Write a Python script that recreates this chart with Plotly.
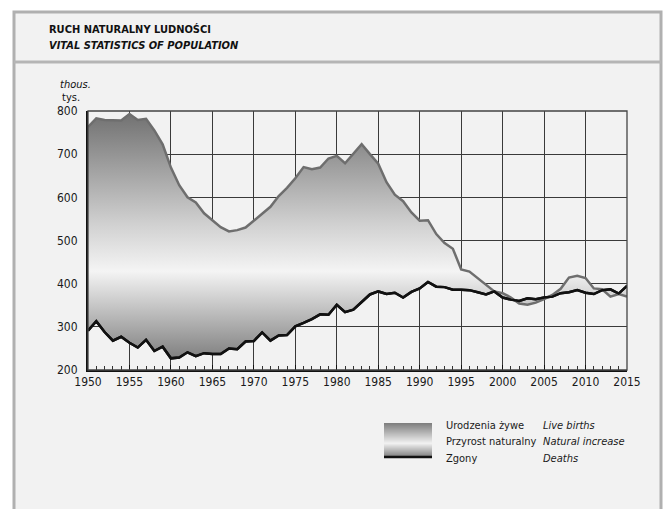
import plotly.graph_objects as go

years = list(range(1950, 2016))
births = [763, 783, 779, 779, 778, 793, 779, 782, 755, 723,
          669, 628, 600, 588, 563, 547, 531, 521, 524, 530,
          546, 563, 578, 603, 622, 644, 670, 665, 669, 690,
          696, 679, 702, 723, 700, 678, 635, 606, 591, 565,
          546, 547, 515, 494, 481, 433, 428, 413, 396, 382,
          378, 368, 354, 351, 356, 364, 374, 388, 414, 418,
          413, 389, 387, 370, 376, 370]
deaths = [291, 313, 288, 268, 277, 263, 252, 270, 244, 254,
          227, 229, 241, 232, 239, 237, 237, 250, 248, 266,
          267, 287, 268, 280, 281, 301, 309, 318, 329, 328,
          351, 334, 340, 358, 375, 382, 376, 379, 368, 381,
          389, 404, 393, 392, 386, 386, 385, 380, 375, 382,
          368, 363, 360, 366, 364, 368, 370, 378, 380, 385,
          379, 376, 385, 387, 377, 395]
x_ticks = list(range(1950, 2016, 5))
y_ticks = [200, 300, 400, 500, 600, 700, 800]

title_pl = "RUCH NATURALNY LUDNOŚCI"
title_en = "VITAL STATISTICS OF POPULATION"
legend_pl = ["Urodzenia żywe", "Przyrost naturalny", "Zgony"]
legend_en = ["Live births", "Natural increase", "Deaths"]

FONT = "DejaVu Sans Condensed, Liberation Sans Narrow, Arial Narrow, sans-serif"

grad = [[0.0, "#7c7c7c"], [0.36, "#f4f4f4"], [0.55, "#d0d0d0"], [1.0, "#6f6f6f"]]

fig = go.Figure()
fig.add_trace(go.Scatter(x=years, y=deaths, mode="lines",
                         line=dict(color="#111111", width=2.5), hoverinfo="skip"))
fig.add_trace(go.Scatter(x=years, y=births, mode="lines", fill="tonexty",
                         fillgradient=dict(type="vertical", colorscale=grad, start=220, stop=800),
                         line=dict(color="#6e6e6e", width=2.5), hoverinfo="skip"))
fig.add_trace(go.Scatter(x=years, y=deaths, mode="lines",
                         line=dict(color="#111111", width=2.5), hoverinfo="skip"))

W, H = 668, 509
ml, mr, mt, mb = 88, 41, 111, 139
pw, ph = W - ml - mr, H - mt - mb

def px(xp):
    return (xp - ml) / pw

def py(yp):
    return (H - mb - yp) / ph

fig.update_layout(
    width=W, height=H,
    margin=dict(l=ml, r=mr, t=mt, b=mb),
    paper_bgcolor="#ffffff",
    plot_bgcolor="#f7f7f7",
    showlegend=False,
    font=dict(family=FONT, size=12, color="#1a1a1a"),
)
fig.update_xaxes(range=[1950, 2015], tickvals=x_ticks, showgrid=True,
                 gridcolor="#3a3a3a", gridwidth=1.3, zeroline=False,
                 showline=True, linecolor="#111111", linewidth=2,
                 ticks="inside", ticklen=5, tickcolor="#111111",
                 minor=dict(dtick=1, ticks="inside", ticklen=4, tickcolor="#333333", showgrid=False),
                 tickfont=dict(family=FONT, size=12, color="#1a1a1a"))
fig.update_yaxes(range=[200, 800], tickvals=y_ticks, showgrid=True,
                 gridcolor="#3a3a3a", gridwidth=1.3, zeroline=False,
                 showline=True, linecolor="#111111", linewidth=2,
                 ticks="", ticklabelstandoff=6,
                 tickfont=dict(family=FONT, size=12, color="#1a1a1a"))

shapes = []
# background panel & frame
shapes.append(dict(type="rect", xref="paper", yref="paper", x0=px(14), x1=px(661),
                   y0=py(H + 5), y1=py(12), fillcolor="#f2f2f2",
                   line=dict(color="#b0b0b0", width=3), layer="below"))
# separator line under title
shapes.append(dict(type="line", xref="paper", yref="paper", x0=px(14), x1=px(661),
                   y0=py(62), y1=py(62), line=dict(color="#b5b5b5", width=3)))
# plot area border (top/right)
shapes.append(dict(type="rect", xref="paper", yref="paper", x0=0, x1=1, y0=0, y1=1,
                   line=dict(color="#444444", width=1.3), layer="above"))
# legend gradient box made of stripes
lx0, lx1, ly0, ly1 = 384, 432, 423, 456
n = 33

def interp(t):
    stops = [(0.0, 0x80), (0.62, 0xf2), (1.0, 0x8a)]
    for (a, ca), (b, cb) in zip(stops[:-1], stops[1:]):
        if a <= t <= b:
            c = int(ca + (cb - ca) * (t - a) / (b - a))
            return f"rgb({c},{c},{c})"
    return "rgb(128,128,128)"

for i in range(n):
    y0 = ly0 + (ly1 - ly0) * i / n
    y1 = ly0 + (ly1 - ly0) * (i + 1) / n
    shapes.append(dict(type="rect", xref="paper", yref="paper", x0=px(lx0), x1=px(lx1),
                       y0=py(y1 + 0.3), y1=py(y0), fillcolor=interp(i / (n - 1)),
                       line=dict(width=0)))
shapes.append(dict(type="line", xref="paper", yref="paper", x0=px(lx0), x1=px(lx1),
                   y0=py(457), y1=py(457), line=dict(color="#111111", width=2.5)))
fig.update_layout(shapes=shapes)

ann = []
ann.append(dict(text="<b>" + title_pl + "</b>", xref="paper", yref="paper", x=px(47), y=py(30),
                xanchor="left", yanchor="middle", showarrow=False,
                font=dict(family=FONT, size=11, color="#111111")))
ann.append(dict(text="<b><i>" + title_en + "</i></b>", xref="paper", yref="paper", x=px(47), y=py(45),
                xanchor="left", yanchor="middle", showarrow=False,
                font=dict(family=FONT, size=11, color="#111111")))
ann.append(dict(text="<i>thous.</i>", xref="paper", yref="paper", x=px(58), y=py(84),
                xanchor="left", yanchor="middle", showarrow=False,
                font=dict(family=FONT, size=11, color="#111111")))
ann.append(dict(text="tys.", xref="paper", yref="paper", x=px(60), y=py(97),
                xanchor="left", yanchor="middle", showarrow=False,
                font=dict(family=FONT, size=11, color="#111111")))
for i, (pl, en) in enumerate(zip(legend_pl, legend_en)):
    yy = 425 + i * 16.5
    ann.append(dict(text=pl, xref="paper", yref="paper", x=px(444), y=py(yy),
                    xanchor="left", yanchor="middle", showarrow=False,
                    font=dict(family=FONT, size=11, color="#1a1a1a")))
    ann.append(dict(text="<i>" + en + "</i>", xref="paper", yref="paper", x=px(541), y=py(yy),
                    xanchor="left", yanchor="middle", showarrow=False,
                    font=dict(family=FONT, size=11, color="#1a1a1a")))
fig.update_layout(annotations=ann)

fig.write_html("out.html")
